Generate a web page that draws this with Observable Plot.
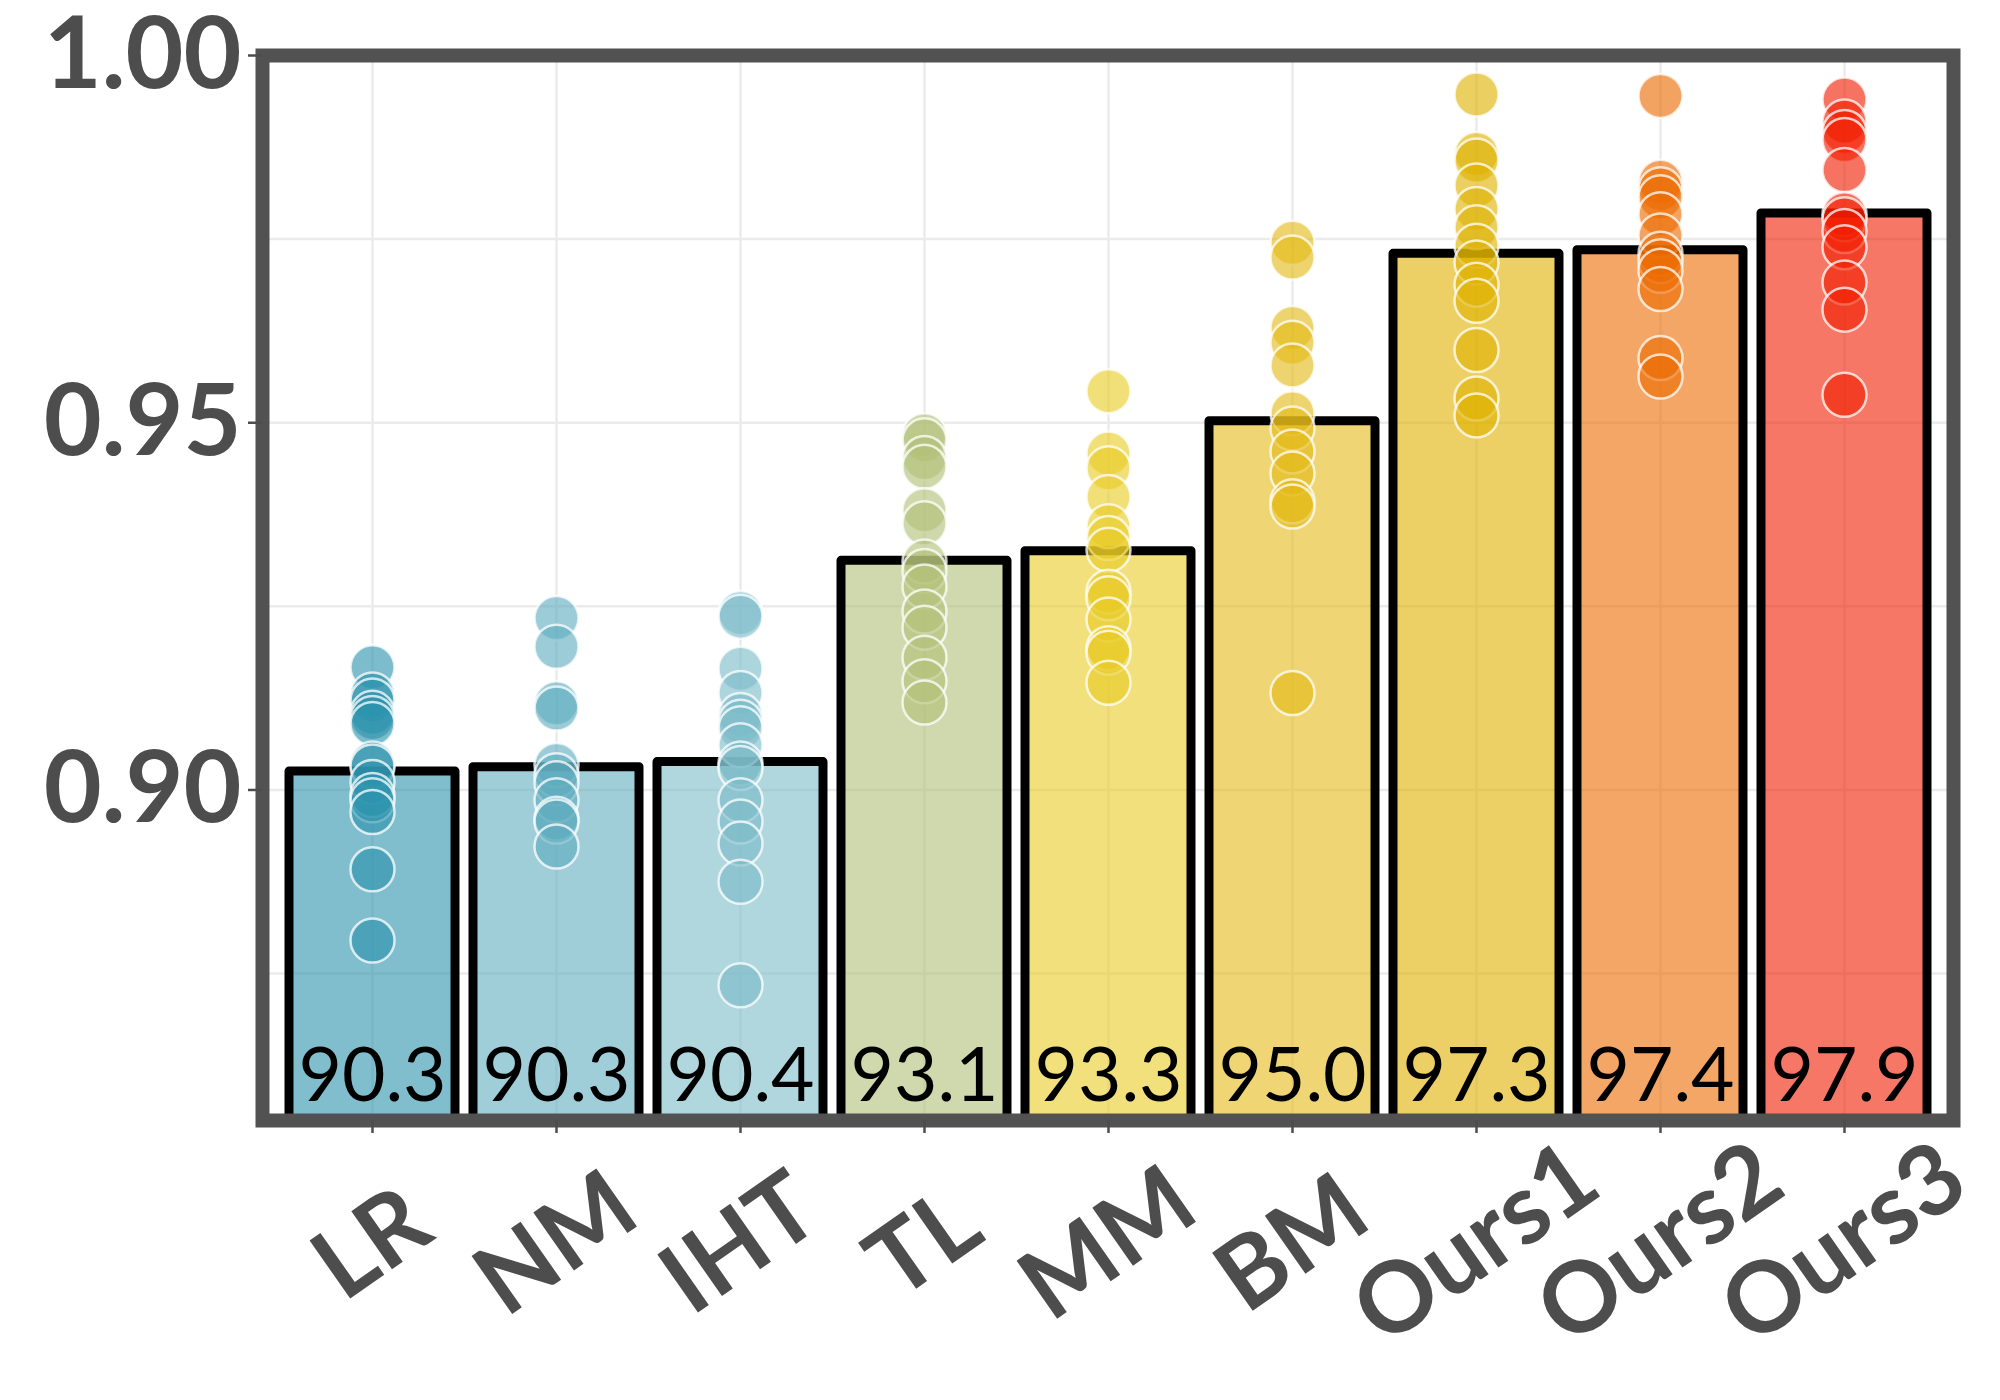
<!DOCTYPE html>
<html>
<head>
<meta charset="utf-8">
<script src="https://cdn.jsdelivr.net/npm/d3@7"></script>
<script src="https://cdn.jsdelivr.net/npm/@observablehq/plot@0.6"></script>
<style>
  html, body { margin: 0; padding: 0; background: #ffffff; }
  #chart { width: 2000px; height: 1400px; }
</style>
</head>
<body>
<div id="chart"></div>
<script>
// ---------- data ----------
const names = ["LR", "NM", "IHT", "TL", "MM", "BM", "Ours1", "Ours2", "Ours3"];
const barValues = [0.9025, 0.9031, 0.9038, 0.9312, 0.9325, 0.9502, 0.9730, 0.9735, 0.9785];
const barLabels = ["90.3", "90.3", "90.4", "93.1", "93.3", "95.0", "97.3", "97.4", "97.9"];
const baseColors = ["#2b93ad", "#5facbe", "#7bbbc8", "#b1c078", "#e9cb25", "#e4b917", "#dfb100", "#ec6a00", "#f21d00"];

const ptsLR    = [0.9167, 0.9130, 0.9122, 0.9105, 0.9098, 0.9090, 0.9036, 0.9032, 0.9011, 0.8993, 0.8986, 0.8970, 0.8892, 0.8795];
const ptsNM    = [0.9234, 0.9195, 0.9118, 0.9111, 0.9034, 0.9020, 0.9009, 0.8986, 0.8961, 0.8957, 0.8923];
const ptsIHT   = [0.9241, 0.9236, 0.9165, 0.9132, 0.9102, 0.9093, 0.9084, 0.9061, 0.9036, 0.9030, 0.8986, 0.8957, 0.8927, 0.8875, 0.8734];
const ptsTL    = [0.9483, 0.9476, 0.9452, 0.9440, 0.9381, 0.9363, 0.9311, 0.9298, 0.9277, 0.9243, 0.9221, 0.9180, 0.9148, 0.9119];
const ptsMM    = [0.9543, 0.9458, 0.9438, 0.9399, 0.9359, 0.9343, 0.9327, 0.9270, 0.9261, 0.9232, 0.9193, 0.9187, 0.9146];
const ptsBM    = [0.9745, 0.9725, 0.9629, 0.9609, 0.9578, 0.9513, 0.9492, 0.9461, 0.9431, 0.9393, 0.9386, 0.9132];
const ptsOurs1 = [0.9947, 0.9866, 0.9857, 0.9823, 0.9791, 0.9766, 0.9741, 0.9718, 0.9688, 0.9666, 0.9599, 0.9533, 0.9510];
const ptsOurs2 = [0.9945, 0.9828, 0.9818, 0.9807, 0.9784, 0.9755, 0.9730, 0.9720, 0.9707, 0.9682, 0.9588, 0.9563];
const ptsOurs3 = [0.9940, 0.9910, 0.9896, 0.9885, 0.9844, 0.9784, 0.9777, 0.9761, 0.9739, 0.9691, 0.9654, 0.9538];

const yTicks = [0.90, 0.95, 1.00];
const yMinorTicks = [0.875, 0.925, 0.975];
const yDomain = [0.855, 1.0];

// ---------- tables ----------
const allPts = [ptsLR, ptsNM, ptsIHT, ptsTL, ptsMM, ptsBM, ptsOurs1, ptsOurs2, ptsOurs3];
const bars = names.map((n, i) => ({name: n, value: barValues[i], label: barLabels[i], color: baseColors[i]}));
const points = allPts.flatMap((arr, i) => arr.map(v => ({name: names[i], value: v, color: baseColors[i]})));

const gridColor = "#ebebeb";
const axisColor = "#4d4d4d";
const font = "Lato, 'Open Sans', sans-serif";

const chart = Plot.plot({
  width: 2000,
  height: 1400,
  marginLeft: 262,
  marginRight: 47,
  marginTop: 55,
  marginBottom: 280,
  style: {background: "#ffffff", fontFamily: font, overflow: "visible"},
  x: {domain: names, paddingInner: 0.1, paddingOuter: 0.125, label: null},
  y: {domain: yDomain, label: null},
  marks: [
    Plot.ruleY(yMinorTicks, {y: d => d, stroke: gridColor, strokeWidth: 2.5}),
    Plot.ruleY(yTicks, {y: d => d, stroke: gridColor, strokeWidth: 2.5}),
    Plot.ruleX(names, {x: d => d, stroke: gridColor, strokeWidth: 2.5}),
    Plot.barY(bars, {
      x: "name", y: "value", fill: "color", fillOpacity: 0.6,
      stroke: "#000000", strokeWidth: 9, strokeLinejoin: "round", clip: true
    }),
    Plot.dot(points, {
      x: "name", y: "value", r: 22, fill: "color", fillOpacity: 0.62,
      stroke: "#ffffff", strokeOpacity: 0.75, strokeWidth: 2.5
    }),
    Plot.text(bars, {
      x: "name", text: "label", frameAnchor: "bottom", lineAnchor: "bottom",
      dy: -20, fontSize: 75, fill: "#000000", fontFamily: font
    }),
    Plot.frame({stroke: "#525252", strokeWidth: 14}),
    Plot.axisY({
      ticks: yTicks, tickFormat: d3.format(".2f"), tickSize: 14, tickPadding: 7,
      fontSize: 100, fontWeight: "bold", color: axisColor, strokeWidth: 2.5, label: null
    }),
    Plot.axisX({
      tickSize: 13, tickPadding: 111, tickRotate: -35, textAnchor: "middle", lineAnchor: "middle",
      fontSize: 98, fontWeight: "bold", color: axisColor, strokeWidth: 2.5, label: null
    })
  ]
});

document.getElementById("chart").appendChild(chart);
</script>
</body>
</html>
